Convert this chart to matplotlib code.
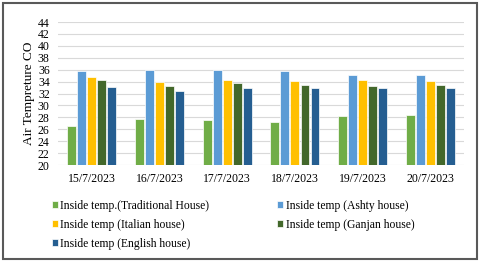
import matplotlib.pyplot as plt
import numpy as np
from matplotlib.patches import Rectangle

plt.rcParams["font.family"] = ["Liberation Serif", "DejaVu Serif"]

dates = ["15/7/2023", "16/7/2023", "17/7/2023", "18/7/2023", "19/7/2023", "20/7/2023"]
traditional = [26.5, 27.8, 27.5, 27.2, 28.3, 28.4]
ashty = [35.8, 35.9, 35.9, 35.7, 35.1, 35.1]
italian = [34.8, 34.0, 34.3, 34.1, 34.3, 34.1]
ganjan = [34.2, 33.2, 33.7, 33.4, 33.3, 33.5]
english = [33.1, 32.5, 33.0, 32.9, 32.9, 32.9]

series = [
    ("Inside temp.(Traditional House)", traditional, "#70AD47"),
    ("Inside temp (Ashty house)", ashty, "#5B9BD5"),
    ("Inside temp (Italian house)", italian, "#FFC000"),
    ("Inside temp (Ganjan house)", ganjan, "#43682B"),
    ("Inside temp (English house)", english, "#255E91"),
]

fig = plt.figure(figsize=(4.8, 2.62), dpi=100)
ax = fig.add_axes([0.121, 0.370, 0.846, 0.546])

x = np.arange(len(dates))
pitch = 0.148
width = 0.132
bars = {}
for i, (name, vals, col) in enumerate(series):
    off = (i - 2) * pitch
    b = ax.bar(x + off, np.array(vals) - 20, width, bottom=20, color=col,
               edgecolor="white", linewidth=0.5, label=name, zorder=3)
    bars[name] = b

ax.set_ylim(20, 44)
ax.set_xlim(-0.5, len(dates) - 0.5)
ax.set_yticks(np.arange(20, 45, 2))
ax.set_xticks(x)
ax.set_xticklabels(dates)
ax.tick_params(axis="both", length=0, labelsize=8.5)
ax.tick_params(axis="y", pad=6)
ax.tick_params(axis="x", pad=6)
ax.grid(axis="y", color="#D9D9D9", linewidth=0.8, zorder=0)
for s in ax.spines.values():
    s.set_visible(False)
ax.set_ylabel("Air Tempreture CO", fontsize=9.5, labelpad=2)

# legend: column-major order so rows read like the original
order = [0, 2, 4, 1, 3]
handles = [bars[series[i][0]] for i in order]
labels = [series[i][0] for i in order]
fig.legend(handles, labels, loc="upper left", bbox_to_anchor=(0.098, 0.256),
           ncol=2, frameon=False, fontsize=8.4, handlelength=0.5,
           handleheight=0.5, handletextpad=0.25, columnspacing=5.8,
           labelspacing=0.6, borderaxespad=0)

fig.patches.append(Rectangle((0.006, 0.013), 0.988, 0.975, transform=fig.transFigure,
                             fill=False, edgecolor="#595959", linewidth=1.5))

fig.savefig("out.png", dpi=100)
